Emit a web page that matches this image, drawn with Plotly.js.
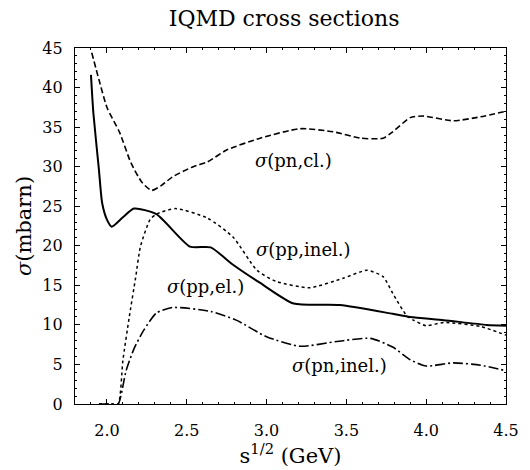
<!DOCTYPE html>
<html>
<head>
<meta charset="utf-8">
<script src="https://cdn.plot.ly/plotly-3.0.1.min.js"></script>
<style>html,body{margin:0;padding:0;background:#fff;}#chart{width:530px;height:470px;}</style>
</head>
<body>
<div id="chart"></div>
<script>
// sigma(pn, cl.) - dashed
const pnClX = [1.905, 1.95, 2.0, 2.08, 2.15, 2.22, 2.28, 2.34, 2.41, 2.54, 2.63, 2.75, 2.96, 3.21, 3.42, 3.59, 3.73, 3.79, 3.90, 3.98, 4.17, 4.34, 4.50];
const pnClY = [44.4, 41.0, 37.5, 34.3, 30.5, 28.0, 27.0, 27.6, 28.7, 30.0, 30.6, 32.1, 33.6, 34.8, 34.4, 33.6, 33.6, 34.4, 36.2, 36.4, 35.8, 36.3, 37.0];
// sigma(pp, el.) - solid
const ppElX = [1.90, 1.915, 1.95, 1.97, 2.0, 2.03, 2.10, 2.17, 2.31, 2.52, 2.65, 2.79, 2.96, 3.17, 3.46, 3.79, 3.90, 4.11, 4.38, 4.50];
const ppElY = [41.6, 36.8, 29.6, 25.4, 23.3, 22.4, 23.6, 24.7, 24.0, 19.9, 19.8, 17.6, 15.3, 12.7, 12.5, 11.4, 11.0, 10.6, 10.0, 9.9];
// sigma(pp, inel.) - dotted
const ppInelX = [1.95, 2.03, 2.07, 2.10, 2.14, 2.18, 2.21, 2.27, 2.31, 2.43, 2.63, 2.79, 2.94, 3.06, 3.27, 3.48, 3.63, 3.73, 3.79, 3.88, 3.92, 4.00, 4.11, 4.34, 4.50];
const ppInelY = [0.0, 0.0, 0.0, 5.5, 11.0, 16.0, 19.9, 23.3, 24.0, 24.7, 23.5, 21.1, 16.9, 15.5, 14.7, 15.9, 16.9, 16.1, 14.0, 11.1, 10.6, 9.9, 10.3, 9.8, 8.7];
// sigma(pn, inel.) - dash-dot
const pnInelX = [1.95, 2.03, 2.07, 2.12, 2.17, 2.23, 2.31, 2.41, 2.65, 2.81, 3.00, 3.21, 3.44, 3.65, 3.79, 3.90, 4.00, 4.17, 4.34, 4.50];
const pnInelY = [0.0, 0.0, 0.0, 4.2, 7.0, 9.3, 11.5, 12.2, 11.7, 10.6, 8.5, 7.3, 7.9, 8.3, 7.2, 5.6, 4.8, 5.2, 4.9, 4.2];

const labelText = ['<i>σ</i>(pn,cl.)', '<i>σ</i>(pp,inel.)', '<i>σ</i>(pp,el.)', '<i>σ</i>(pn,inel.)'];
const labelX = [3.17, 3.23, 2.62, 3.46];
const labelY = [30.8, 19.5, 14.8, 4.9];

const serif = 'DejaVu Serif';
const ln = {color: '#000', shape: 'spline', smoothing: 0.6};

const traces = [
  {x: pnClX, y: pnClY, mode: 'lines', line: Object.assign({}, ln, {width: 1.6, dash: '6px,3px'})},
  {x: ppElX, y: ppElY, mode: 'lines', line: Object.assign({}, ln, {width: 2})},
  {x: ppInelX, y: ppInelY, mode: 'lines', line: Object.assign({}, ln, {width: 1.5, dash: 'dot'})},
  {x: pnInelX, y: pnInelY, mode: 'lines', line: Object.assign({}, ln, {width: 1.6, dash: '10px,3px,2px,3px'})}
];

const annotations = labelText.map((t, i) => ({
  x: labelX[i], y: labelY[i], xref: 'x', yref: 'y', text: t, showarrow: false,
  font: {family: serif, size: 18, color: '#000'}
}));

const layout = {
  width: 530, height: 470,
  margin: {l: 75, r: 24, t: 48, b: 66},
  paper_bgcolor: '#fff', plot_bgcolor: '#fff',
  showlegend: false,
  font: {family: serif, color: '#000'},
  title: {text: 'IQMD cross sections', x: 0.536, xanchor: 'center', y: 0.962, yanchor: 'middle',
          font: {family: serif, size: 22, color: '#000'}},
  xaxis: {
    range: [1.8, 4.5], tickvals: [2.0, 2.5, 3.0, 3.5, 4.0, 4.5], ticktext: ['2.0','2.5','3.0','3.5','4.0','4.5'],
    ticks: 'inside', ticklen: 5, tickcolor: '#000', showline: true, linecolor: '#000', linewidth: 1.2, mirror: 'ticks',
    showgrid: false, zeroline: false, ticklabelstandoff: 12,
    minor: {dtick: 0.1, ticks: 'inside', ticklen: 2, tickcolor: '#000'},
    tickfont: {family: serif, size: 16, color: '#000'},
    title: {text: 's<sup>1/2</sup> (GeV)', font: {family: serif, size: 21, color: '#000'}, standoff: 2}
  },
  yaxis: {
    range: [0, 45], dtick: 5,
    ticks: 'inside', ticklen: 5, tickcolor: '#000', showline: true, linecolor: '#000', linewidth: 1.2, mirror: 'ticks',
    showgrid: false, zeroline: false, ticklabelstandoff: 8,
    minor: {dtick: 1, ticks: 'inside', ticklen: 2, tickcolor: '#000'},
    tickfont: {family: serif, size: 16, color: '#000'},
    title: {text: '<i>σ</i>(mbarn)', font: {family: serif, size: 21, color: '#000'}, standoff: 4}
  },
  annotations: annotations
};

Plotly.newPlot('chart', traces, layout, {displayModeBar: false, staticPlot: true});
</script>
</body>
</html>
